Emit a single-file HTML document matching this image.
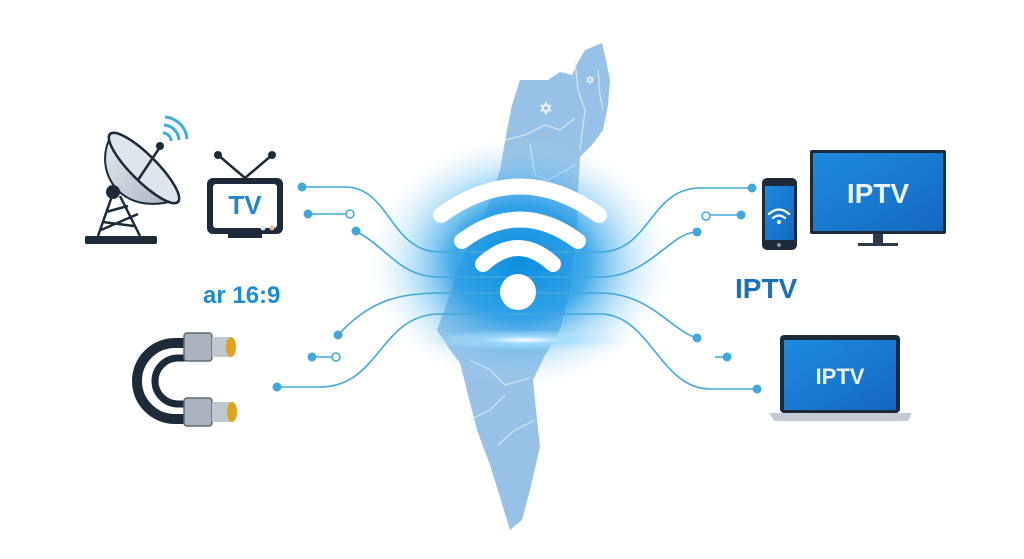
<!DOCTYPE html>
<html><head><meta charset="utf-8"><style>
html,body{margin:0;padding:0;background:#fff}
svg{display:block}
text{font-family:"Liberation Sans",sans-serif;font-weight:bold}
</style></head><body>
<svg width="1024" height="559" viewBox="0 0 1024 559" xmlns="http://www.w3.org/2000/svg">
<defs>
<radialGradient id="glow" cx="0.5" cy="0.5" r="0.5">
<stop offset="0" stop-color="#0a8fe0" stop-opacity="1"/>
<stop offset="0.45" stop-color="#1f9be6" stop-opacity="0.85"/>
<stop offset="0.75" stop-color="#6cc0f0" stop-opacity="0.35"/>
<stop offset="1" stop-color="#bfe3f8" stop-opacity="0"/>
</radialGradient>
<radialGradient id="hl" cx="0.5" cy="0.5" r="0.5">
<stop offset="0" stop-color="#ffffff" stop-opacity="1"/>
<stop offset="0.4" stop-color="#9fdcff" stop-opacity="0.8"/>
<stop offset="1" stop-color="#bfe6fb" stop-opacity="0"/>
</radialGradient>
<linearGradient id="scr" x1="0" y1="0" x2="1" y2="1">
<stop offset="0" stop-color="#1e8ae0"/><stop offset="1" stop-color="#1468c0"/>
</linearGradient>
<linearGradient id="bowl" x1="0" y1="0" x2="1" y2="1">
<stop offset="0" stop-color="#e4e9ef"/><stop offset="1" stop-color="#aab6c3"/>
</linearGradient>
</defs>
<!-- map -->
<path d="M602,43 L585,50 L578,62 L572,75 L560,72 L548,80 L520,80 L512,105 L507,130 L500,170 L490,200 L478,230 L460,263 L448,300 L437,330 L450,350 L460,363 L468,395 L477,430 L490,465 L500,497 L510,530 L522,520 L530,490 L540,447 L536,410 L533,380 L545,355 L560,330 L570,290 L577,230 L578,190 L580,157 L592,145 L603,130 L608,105 L610,80 L606,60 Z" fill="#97c1e6"/>
<g stroke="#d8ebf8" stroke-width="1.2" fill="none" opacity="0.9">
<path d="M505,140 L525,135 L545,125 L560,130 L575,118"/>
<path d="M575,62 L578,90 L585,110 L580,150"/>
<path d="M530,145 L535,175 L548,180 L575,165"/>
<path d="M470,360 L490,370 L505,385 L530,378"/>
<path d="M470,420 L490,410 L505,395"/>
<path d="M498,445 L515,430 L535,420"/>
<path d="M598,70 L600,95 L603,110"/>
</g>
<text x="546" y="114" font-size="16" fill="#e8f3fb" text-anchor="middle">✡</text>
<text x="590" y="84" font-size="11" fill="#e8f3fb" text-anchor="middle">✡</text>
<!-- glow -->
<ellipse cx="520" cy="262" rx="150" ry="125" fill="url(#glow)"/>
<!-- connectors -->
<g stroke="#42a8dc" stroke-width="1.6" fill="none">
<path d="M302,187 H345 C390,187 390,252 440,252 H600 C650,252 650,188 700,188 H752"/>
<path d="M308,214 H350"/>
<path d="M356,231 C390,250 400,277 440,277 H600 C650,277 670,232 697,232"/>
<path d="M741,215 H706"/>
<path d="M338,335 C370,300 400,293 440,293 H600 C650,293 670,330 697,338"/>
<path d="M312,357 H336"/>
<path d="M277,387 H320 C380,387 380,314 440,314 H600 C650,314 660,389 710,389 H757"/>
<path d="M715,357 H727"/>
</g>
<g fill="#42a8dc">
<circle cx="302" cy="187" r="4.5"/><circle cx="308" cy="214" r="4.5"/><circle cx="356" cy="231" r="4.5"/>
<circle cx="338" cy="335" r="4.5"/><circle cx="312" cy="357" r="4.5"/><circle cx="277" cy="387" r="4.5"/>
<circle cx="752" cy="188" r="4.5"/><circle cx="741" cy="215" r="4.5"/><circle cx="697" cy="232" r="4.5"/>
<circle cx="697" cy="338" r="4.5"/><circle cx="727" cy="357" r="4.5"/><circle cx="757" cy="389" r="4.5"/>
</g>
<g fill="#fff" stroke="#42a8dc" stroke-width="1.5">
<circle cx="350" cy="214" r="4"/><circle cx="336" cy="357" r="4"/><circle cx="706" cy="216" r="4"/>
</g>
<ellipse cx="525" cy="340" rx="105" ry="10" fill="url(#hl)"/>
<!-- wifi -->
<g stroke="#fff" stroke-width="16" stroke-linecap="round" fill="none">
<path d="M441,215 Q520,158 599,215"/>
<path d="M462,241 Q520,198 578,241"/>
<path d="M483,264 Q518,232 553,264"/>
</g>
<circle cx="518" cy="292" r="18" fill="#fff"/>
<!-- satellite -->
<path d="M111,136 C92,170 120,218 176,200 Z" fill="url(#bowl)" stroke="#1c2a3a" stroke-width="2"/>
<ellipse cx="144" cy="168" rx="48" ry="13" transform="rotate(45 144 168)" fill="#dfe5ec" stroke="#1c2a3a" stroke-width="2.5"/>
<g stroke="#1c2a3a" stroke-width="2.5" fill="none">
<path d="M138,180 L160,147"/>
<path d="M112,196 L98,236 M120,196 L140,236 M103,222 L134,226 M101,230 L138,214 M106,212 L128,206"/>
</g>
<circle cx="160" cy="146" r="4" fill="#1c2a3a"/>
<circle cx="113" cy="192" r="7" fill="#1c2a3a"/>
<rect x="85" y="236" width="72" height="8" rx="2" fill="#1c2a3a"/>
<g stroke="#3ab0e0" stroke-width="3" fill="none">
<path d="M163,133 A8,8 0 0 1 171,141"/><path d="M164,125 A16,16 0 0 1 179,140"/><path d="M165,117 A24,24 0 0 1 187,139"/>
</g>
<!-- TV -->
<g stroke="#1c2a3a" stroke-width="2.5"><path d="M245,178 L218,155 M245,178 L272,155"/></g>
<circle cx="218" cy="155" r="4" fill="#1c2a3a"/><circle cx="272" cy="155" r="4" fill="#1c2a3a"/>
<rect x="207" y="178" width="76" height="56" rx="6" fill="#1c2a3a"/>
<rect x="213" y="184" width="64" height="44" rx="3" fill="#fff"/>
<text x="245" y="214" font-size="26" fill="#1d88cf" text-anchor="middle">TV</text>
<circle cx="263" cy="228" r="2.5" fill="#d9eaf5"/><circle cx="272" cy="228" r="2.5" fill="#e8b890"/>
<rect x="228" y="234" width="34" height="4" fill="#1c2a3a"/>
<text x="203" y="303" font-size="24" fill="#1d8bd2">ar 16:9</text>
<!-- cable -->
<g fill="none" stroke="#1c2a3a" stroke-width="10">
<path d="M185,343 H175 A38,38 0 0 0 175,419 H185"/>
</g>
<g fill="none" stroke="#1c2a3a" stroke-width="7">
<path d="M185,358 H178 A23,23 0 0 0 178,404 H185"/>
</g>
<rect x="184" y="333" width="28" height="28" rx="3" fill="#a9b3bd" stroke="#5d6a78" stroke-width="1.5"/>
<rect x="212" y="337" width="18" height="20" fill="#bfc7cf"/>
<ellipse cx="231" cy="347" rx="5" ry="10" fill="#e3a21c"/>
<rect x="184" y="398" width="28" height="28" rx="3" fill="#a9b3bd" stroke="#5d6a78" stroke-width="1.5"/>
<rect x="212" y="402" width="18" height="20" fill="#bfc7cf"/>
<ellipse cx="232" cy="412" rx="5" ry="10" fill="#e3a21c"/>
<!-- phone -->
<rect x="762" y="178" width="35" height="72" rx="5" fill="#1c2a3a"/>
<rect x="765" y="186" width="29" height="54" fill="url(#scr)"/>
<g stroke="#fff" stroke-width="2.2" fill="none" stroke-linecap="round">
<path d="M769,214 Q779,205 789,214"/><path d="M773,218 Q779,213 785,218"/>
</g>
<circle cx="779" cy="222" r="2" fill="#fff"/><circle cx="779" cy="245" r="2" fill="#8a96a3"/>
<!-- monitor -->
<rect x="810" y="150" width="136" height="84" rx="2" fill="#1c2a3a"/>
<rect x="813" y="153" width="130" height="78" fill="url(#scr)"/>
<text x="878" y="203" font-size="28" fill="#e9f4fc" text-anchor="middle">IPTV</text>
<rect x="873" y="234" width="10" height="9" fill="#2c3a4a"/>
<rect x="858" y="243" width="40" height="3" fill="#2c3a4a"/>
<text x="735" y="298" font-size="28" fill="#1a70b8">IPTV</text>
<!-- laptop -->
<rect x="780" y="335" width="120" height="78" rx="4" fill="#1c2a3a"/>
<rect x="784" y="340" width="112" height="70" fill="url(#scr)"/>
<text x="840" y="384" font-size="22" fill="#e9f4fc" text-anchor="middle">IPTV</text>
<path d="M770,413 H912 L908,421 H774 Z" fill="#c4cad1"/>
</svg>
</body></html>
